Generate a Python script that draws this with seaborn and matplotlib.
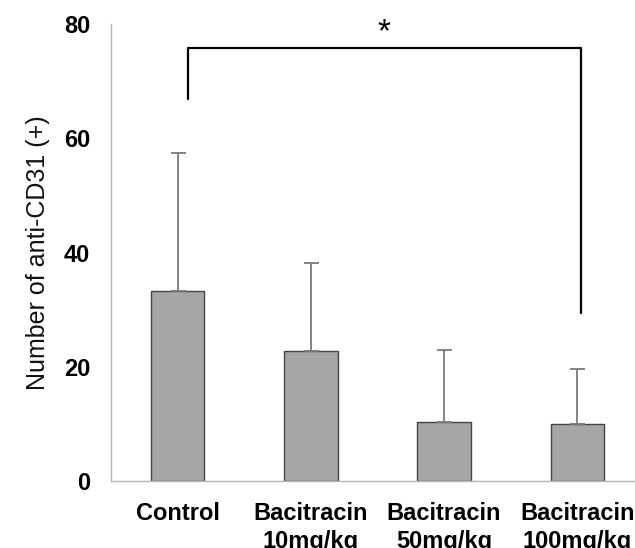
import matplotlib
matplotlib.use("Agg")
import matplotlib.pyplot as plt
import seaborn as sns
import numpy as np
import pandas as pd

categories = ["Control", "Bacitracin\n10mg/kg", "Bacitracin\n50mg/kg", "Bacitracin\n100mg/kg"]
means = [33.3, 22.8, 10.4, 9.9]
sds = [24.1, 15.4, 12.6, 9.8]
yticks = [0, 20, 40, 60, 80]
bracket_x = [0.08, 0.08, 3.03, 3.03]
bracket_y = [66.9, 75.8, 75.8, 29.4]
star_label = "*"

sns.set_theme(style="white")
plt.rcParams['font.family'] = ['Liberation Sans', 'DejaVu Sans']
plt.rcParams['text.color'] = 'black'
plt.rcParams['axes.labelcolor'] = 'black'
plt.rcParams['xtick.color'] = 'black'
plt.rcParams['ytick.color'] = 'black'

df = pd.DataFrame({"group": categories, "value": means})

fig = plt.figure(figsize=(6.35, 5.48), dpi=100)
ax = fig.add_axes([111/635, 67/548, 533/635, 456.7/548])

sns.barplot(data=df, x="group", y="value", width=0.4, color="#a6a6a6",
            saturation=1, edgecolor="#454545", linewidth=1.0, errorbar=None, ax=ax)

x = np.arange(len(categories))
ax.errorbar(x, means, yerr=[np.zeros(len(sds)), sds], fmt="none",
            ecolor="#7a7a7a", elinewidth=1.3, capsize=5.4, capthick=1.3, zorder=1)

ax.set_xlim(-0.5, 3.5)
ax.set_ylim(0, 80)
ax.set_yticks(yticks)
ax.set_yticklabels([str(t) for t in yticks], fontsize=17, fontweight="bold", color="black")
ax.set_xticks(x)
ax.set_xticklabels(categories, fontsize=17, fontweight="bold", linespacing=1.3, color="black")
ax.set_xticks(np.arange(-0.5, 4.0, 1.0), minor=True)
ax.tick_params(axis="x", which="major", length=0, pad=15)
ax.tick_params(axis="x", which="minor", length=5, width=1, color="#b5b5b5", direction="out")
ax.tick_params(axis="y", which="major", length=4.5, width=1, color="#b5b5b5", direction="in", pad=15)

ax.set_xlabel("")
ax.set_ylabel("Number of anti-CD31 (+)", fontsize=18, labelpad=10, color="#111111")

for s in ["top", "right"]:
    ax.spines[s].set_visible(False)
for s in ["left", "bottom"]:
    ax.spines[s].set_color("#b5b5b5")
    ax.spines[s].set_linewidth(1.0)

ax.plot(bracket_x, bracket_y, color="black", lw=1.6, clip_on=False, zorder=5)
ax.text(1.55, 78.6, star_label, ha="center", va="center", fontsize=24, color="black")

fig.savefig("out.png", dpi=100)
